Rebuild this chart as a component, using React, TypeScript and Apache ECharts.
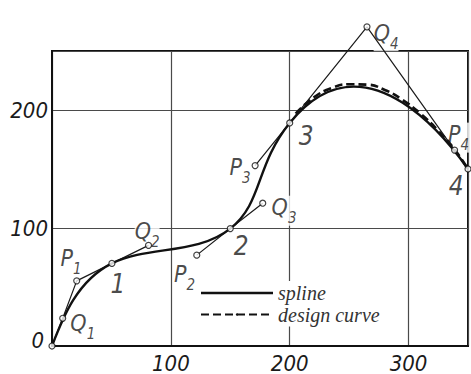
import React, { useEffect, useRef } from 'react';
import * as echarts from 'echarts';

// knots of the spline
const knotNames = ['0', '1', '2', '3', '4'];
const knotX = [0, 50.4, 150, 200, 350];
const knotY = [0, 70, 99.5, 189, 150];
// outgoing control points Q1..Q4
const qNames = ['Q1', 'Q2', 'Q3', 'Q4'];
const qX = [9, 81.2, 177.3, 265];
const qY = [23.5, 85.3, 121, 270.5];
// incoming control points P1..P4
const pNames = ['P1', 'P2', 'P3', 'P4'];
const pX = [20.8, 121.8, 170.9, 338.7];
const pY = [55.2, 77, 152.9, 166];
// design curve
const designX = [205, 220, 235, 250, 265, 280, 295, 310, 325, 338, 350];
const designY = [197, 210.5, 218.5, 221.8, 221.5, 217, 208.5, 197, 182.5, 167.5, 150];
// legend texts
const legendNames = ['spline', 'design curve'];

const FONT = '"DejaVu Sans Condensed", "Liberation Sans Narrow", "DejaVu Sans", sans-serif';

const labelOffsets: Record<string, [number, number]> = {
  P1: [-5.7, -19.3],
  Q1: [20.1, 8.5],
  Q2: [-1.4, -10.5],
  P2: [-12.2, 22.2],
  Q3: [21.3, 7.5],
  P3: [-15, 4.5],
  Q4: [19.1, 9.3],
  P4: [4, -12.5],
  '1': [6, 20.8],
  '2': [11, 17.5],
  '3': [16.5, 13.5],
  '4': [-11.7, 16.5],
};

export default function App() {
  const ref = useRef<HTMLDivElement>(null);
  useEffect(() => {
    if (!ref.current) return;
    const chart = echarts.init(ref.current, undefined, { renderer: 'svg' });

    const segments = [0, 1, 2, 3].map((i) => [
      knotX[i], knotY[i], qX[i], qY[i], pX[i], pY[i], knotX[i + 1], knotY[i + 1],
    ]);
    const pt = (kind: string, i: number): [number, number] =>
      kind === 'k' ? [knotX[i], knotY[i]] : kind === 'q' ? [qX[i], qY[i]] : [pX[i], pY[i]];
    const polyA = [pt('k', 0), pt('q', 0), pt('p', 0), pt('k', 1), pt('q', 1)];
    const polyB = [pt('p', 1), pt('k', 2), pt('q', 2)];
    const polyC = [pt('p', 2), pt('k', 3), pt('q', 3), pt('p', 3), pt('k', 4)];

    const pointData: any[] = [];
    const labelData: any[] = [];
    const add = (name: string, x: number, y: number) => {
      pointData.push({ name, value: [x, y] });
      const off = labelOffsets[name];
      if (off) labelData.push({ name, value: [x, y], label: { offset: off } });
    };
    knotNames.forEach((n, i) => add(n, knotX[i], knotY[i]));
    qNames.forEach((n, i) => add(n, qX[i], qY[i]));
    pNames.forEach((n, i) => add(n, pX[i], pY[i]));

    const ctrlLine = (data: [number, number][]) => ({
      type: 'line',
      data,
      symbol: 'none',
      clip: false,
      silent: true,
      z: 3,
      lineStyle: { color: '#1a1a1a', width: 1.2 },
    });

    const option: any = {
      animation: false,
      backgroundColor: '#fff',
      grid: {
        left: 52, right: 2.5, top: 51, bottom: 26,
        show: true, borderColor: '#111', borderWidth: 2,
      },
      legend: {
        orient: 'vertical',
        left: 198,
        top: 281,
        itemWidth: 72,
        itemHeight: 3,
        itemGap: 1.5,
        padding: [2, 4, 2, 2],
        backgroundColor: '#fff',
        selectedMode: false,
        textStyle: {
          fontFamily: '"Liberation Serif", serif',
          fontStyle: 'italic',
          fontSize: 20,
          color: '#333',
        },
        data: [
          { name: legendNames[0], icon: 'path://M0,0H72V2.4H0Z', itemStyle: { color: '#111' } },
          { name: legendNames[1] },
        ],
      },
      xAxis: {
        type: 'value',
        min: 0, max: 350, interval: 100,
        axisLine: { show: true, lineStyle: { color: '#111', width: 2 } },
        axisTick: { show: false },
        splitLine: { show: true, lineStyle: { color: '#4a4a4a', width: 1.2 } },
        axisLabel: {
          margin: 6,
          fontFamily: FONT,
          fontStyle: 'italic',
          fontSize: 22,
          color: '#1a1a1a',
          formatter: (v: number) => (v === 0 || v === 350 ? '' : String(v)),
        },
      },
      yAxis: {
        type: 'value',
        min: 0, max: 250, interval: 100,
        axisLine: { show: true, lineStyle: { color: '#111', width: 2 } },
        axisTick: { show: false },
        splitLine: { show: true, lineStyle: { color: '#4a4a4a', width: 1.2 } },
        axisLabel: {
          margin: 4,
          fontFamily: FONT,
          fontStyle: 'italic',
          fontSize: 22,
          color: '#1a1a1a',
          formatter: (v: number) => (v === 250 ? '' : v === 0 ? '{z|0}' : String(v)),
          rich: {
            z: { fontFamily: FONT, fontStyle: 'italic', fontSize: 22, color: '#1a1a1a', padding: [0, 4, 12, 0] },
          },
        },
      },
      series: [
        {
          type: 'scatter',
          data: labelData,
          symbolSize: 0.1,
          clip: false,
          silent: true,
          z: 1,
          itemStyle: { color: 'transparent' },
          label: {
            show: true,
            position: 'inside',
            backgroundColor: '#fff',
            color: '#1a1a1a',
            fontFamily: FONT,
            fontStyle: 'italic',
            formatter: (p: any) => {
              const n: string = p.name;
              if (n.length === 2) return `{m|${n[0]}}{s|${n[1]}}`;
              return `{k|${n}}`;
            },
            rich: {
              m: { fontFamily: FONT, fontStyle: 'italic', fontSize: 23, lineHeight: 24, verticalAlign: 'top', color: '#1a1a1a' },
              s: { fontFamily: FONT, fontStyle: 'italic', fontSize: 15, padding: [15, 0, 0, 0], verticalAlign: 'bottom', color: '#1a1a1a' },
              k: { fontFamily: FONT, fontStyle: 'italic', fontSize: 26, color: '#1a1a1a' },
            },
          },
        },
        {
          type: 'line',
          name: legendNames[1],
          data: designX.map((x, i) => [x, designY[i]]),
          smooth: 0.5,
          symbol: 'none',
          z: 2,
          lineStyle: { color: '#111', width: 2.6, type: [8, 4] },
          itemStyle: { color: '#111' },
        },
        ctrlLine(polyA),
        ctrlLine(polyB),
        ctrlLine(polyC),
        {
          type: 'custom',
          name: legendNames[0],
          data: segments,
          z: 4,
          itemStyle: { color: '#111' },
          renderItem: (_params: any, api: any) => {
            const a = api.coord([api.value(0), api.value(1)]);
            const c1 = api.coord([api.value(2), api.value(3)]);
            const c2 = api.coord([api.value(4), api.value(5)]);
            const b = api.coord([api.value(6), api.value(7)]);
            return {
              type: 'bezierCurve',
              shape: {
                x1: a[0], y1: a[1], cpx1: c1[0], cpy1: c1[1],
                cpx2: c2[0], cpy2: c2[1], x2: b[0], y2: b[1],
              },
              style: { stroke: '#111', lineWidth: 2.4, fill: 'none' },
            };
          },
        },
        {
          type: 'scatter',
          data: pointData,
          symbol: 'circle',
          symbolSize: 6,
          clip: false,
          silent: true,
          z: 6,
          itemStyle: { color: '#fff', borderColor: '#111', borderWidth: 1.2 },
          label: { show: false },
        },
      ],
    };
    chart.setOption(option);
    return () => chart.dispose();
  }, []);
  return (
    <div
      ref={ref}
      style={{ position: 'absolute', left: 0, top: 0, width: 471, height: 374 }}
    />
  );
}
